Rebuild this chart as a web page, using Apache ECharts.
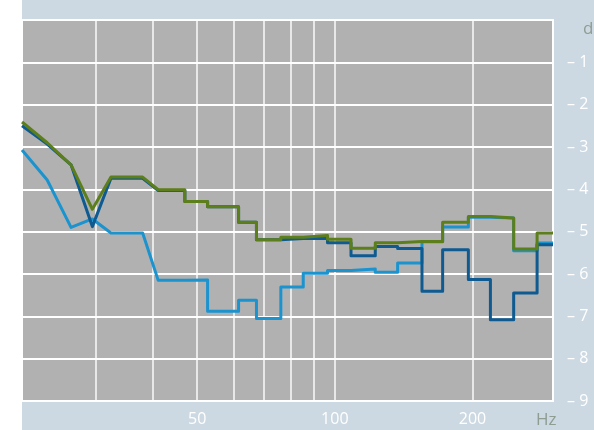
<!DOCTYPE html>
<html>
<head>
<meta charset="utf-8">
<script src="https://cdn.jsdelivr.net/npm/echarts@6/dist/echarts.min.js"></script>
<style>
html,body{margin:0;padding:0;background:#fff;}
#c{position:absolute;left:0;top:0;width:594px;height:430px;background:linear-gradient(to right,#ffffff 22px,#cdd9e2 22px);}
</style>
</head>
<body>
<div id="c"></div>
<script>
// Frequencies (Hz) of the sloped low-frequency part
const rampHz = [20.7, 23.5, 26.5, 29.5, 32.4, 38.0];
// Band edges (Hz) of the stepped part
const bandEdges = [41.1, 47.0, 52.7, 61.6, 67.4, 76.2, 85.3, 96.4, 108.5, 122.6, 137.2, 155.1, 172.1, 195.9, 218.9, 246.1, 276.9, 300];

// Series values (axis units, negative = below 0)
const greenRamp = [-2.41, -2.90, -3.42, -4.47, -3.71, -3.71];
const greenBands = [-4.01, -4.29, -4.41, -4.78, -5.19, -5.13, -5.09, -5.18, -5.39, -5.26, -5.23, -5.23, -4.78, -4.64, -4.68, -5.41, -5.03];

const darkRamp = [-2.50, -2.93, -3.42, -4.88, -3.74, -3.74];
const darkBands = [-4.03, -4.29, -4.41, -4.78, -5.19, -5.16, -5.16, -5.26, -5.57, -5.35, -5.40, -6.41, -5.43, -6.13, -7.08, -6.45, -5.31];

const lightRamp = [-3.07, -3.78, -4.90, -4.70, -5.03, -5.03];
const lightBands = [-6.15, -6.14, -6.88, -6.62, -7.05, -6.31, -5.98, -5.92, -5.88, -5.96, -5.74, -5.24, -4.89, -4.66, -4.68, -5.45, -5.27];

// Axis ticks
const xGridHz = [30, 40, 50, 60, 70, 80, 90, 100, 200];
const xLabelHz = [50, 100, 200];
const yTicks = [-9, -8, -7, -6, -5, -4, -3, -2, -1, 0];

function build(ramp, bands) {
  const pts = rampHz.map((f, i) => [f, ramp[i]]);
  for (let i = 0; i < bands.length; i++) {
    pts.push([bandEdges[i], bands[i]]);
    pts.push([bandEdges[i + 1], bands[i]]);
  }
  return pts;
}

const chart = echarts.init(document.getElementById('c'), null, {renderer: 'canvas'});
const lineSeries = (name, color, data, z) => ({
  name, type: 'line', data, symbol: 'none', z,
  lineStyle: {color, width: 3, join: 'round'}, animation: false
});

chart.setOption({
  backgroundColor: 'transparent',
  animation: false,
  textStyle: {fontFamily: 'Open Sans'},
  grid: {
    left: 22, right: 41, top: 20, bottom: 29,
    outerBoundsMode: 'none', containLabel: false,
    show: true, backgroundColor: '#b1b1b1', borderColor: '#ffffff', borderWidth: 2
  },
  xAxis: {
    type: 'log', logBase: 10, min: rampHz[0], max: bandEdges[bandEdges.length - 1],
    axisLine: {show: false, onZero: false},
    axisTick: {show: false, customValues: xGridHz},
    axisLabel: {customValues: xLabelHz, color: '#ffffff', fontSize: 16, margin: 10, fontFamily: 'Open Sans'},
    splitLine: {show: true, lineStyle: {color: 'rgba(255,255,255,0.7)', width: 2}},
    name: 'Hz', nameLocation: 'end', nameGap: -17,
    nameTextStyle: {color: '#8e9c92', fontSize: 17, align: 'left', verticalAlign: 'top', padding: [11, 0, 0, 0], fontFamily: 'Open Sans'}
  },
  yAxis: {
    type: 'value', position: 'right', min: yTicks[0], max: yTicks[yTicks.length - 1], interval: 1,
    axisLine: {show: false}, axisTick: {show: false},
    axisLabel: {
      color: '#ffffff', fontSize: 16, margin: 14, fontFamily: 'Open Sans',
      formatter: v => v === 0 ? '' : '\u2013 ' + (-v)
    },
    splitLine: {show: true, lineStyle: {color: '#ffffff', width: 2}},
    name: 'dB', nameLocation: 'end', nameGap: -9,
    nameTextStyle: {color: '#8e9c92', fontSize: 17, align: 'left', verticalAlign: 'middle', padding: [0, 0, 0, 30], fontFamily: 'Open Sans'}
  },
  series: [
    lineSeries('light', '#1a93cf', build(lightRamp, lightBands), 2),
    lineSeries('dark', '#0e5a91', build(darkRamp, darkBands), 3),
    lineSeries('green', '#5c7e1b', build(greenRamp, greenBands), 4)
  ]
});
</script>
</body>
</html>
